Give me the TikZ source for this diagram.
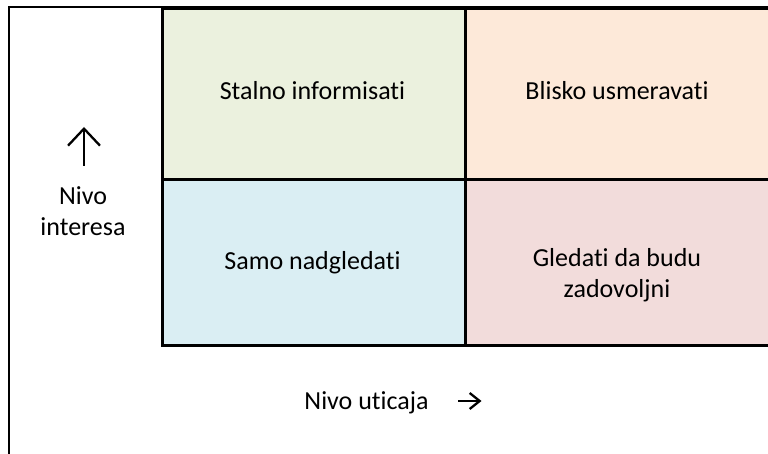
\documentclass[tikz,border=0pt]{standalone}
\usepackage{fontspec}
\setmainfont[Ligatures=NoCommon]{Carlito}
\usetikzlibrary{arrows.meta}
\definecolor{cgreen}{HTML}{EBF1DE}
\definecolor{cpeach}{HTML}{FDE9D9}
\definecolor{cblue}{HTML}{DAEEF3}
\definecolor{cpink}{HTML}{F2DCDB}
\tikzset{
  cell/.style={draw=black, line width=2.6pt, rectangle, inner sep=0pt, anchor=north west},
  lbl/.style={anchor=base, inner sep=0pt, font=\fontsize{26}{31}\selectfont},
  axarrow/.style={line width=2.3pt},
}
\begin{document}
\begin{tikzpicture}[x=1pt,y=-1pt]
\useasboundingbox (0,0) rectangle (768,454);
\fill[white] (0,0) rectangle (768,454);
% outer frame (runs past right and bottom edges)
\draw[line width=2.6pt] (790,7) -- (9,7) -- (9,480);
% cells
\node[cell, fill=cgreen, minimum width=303pt, minimum height=171pt] (c1) at (161,7) {};
\node[cell, fill=cpeach, minimum width=310pt, minimum height=171pt] (c2) at (464,7) {};
\node[cell, fill=cblue, minimum width=303pt, minimum height=166pt] (c3) at (161,178) {};
\node[cell, fill=cpink, minimum width=310pt, minimum height=166pt] (c4) at (464,178) {};
% texts
\node[lbl] (t1) at (312.5,100) {Stalno informisati};
\node[lbl] (t2) at (617,100) {Blisko usmeravati};
\node[lbl] (t3) at (312.5,270) {Samo nadgledati};
\node[lbl] (t4) at (617,266.7) {\begin{tabular}[t]{@{}c@{}}Gledati da budu\\zadovoljni\end{tabular}};
\node[lbl] (yl) at (83,205) {\begin{tabular}[t]{@{}c@{}}Nivo\\interesa\end{tabular}};
\node[lbl] (xl) at (366.5,409) {Nivo uticaja};
% axis arrows
\coordinate (ua0) at (84,166);
\coordinate (ua1) at (84,127);
\coordinate (ra0) at (458,401);
\coordinate (ra1) at (481.5,401);
\draw[axarrow, -{Straight Barb[length=17pt,width=32pt]}] (ua0) -- (ua1);
\draw[axarrow, -{Straight Barb[length=10pt,width=16pt]}] (ra0) -- (ra1);
\end{tikzpicture}
\end{document}
